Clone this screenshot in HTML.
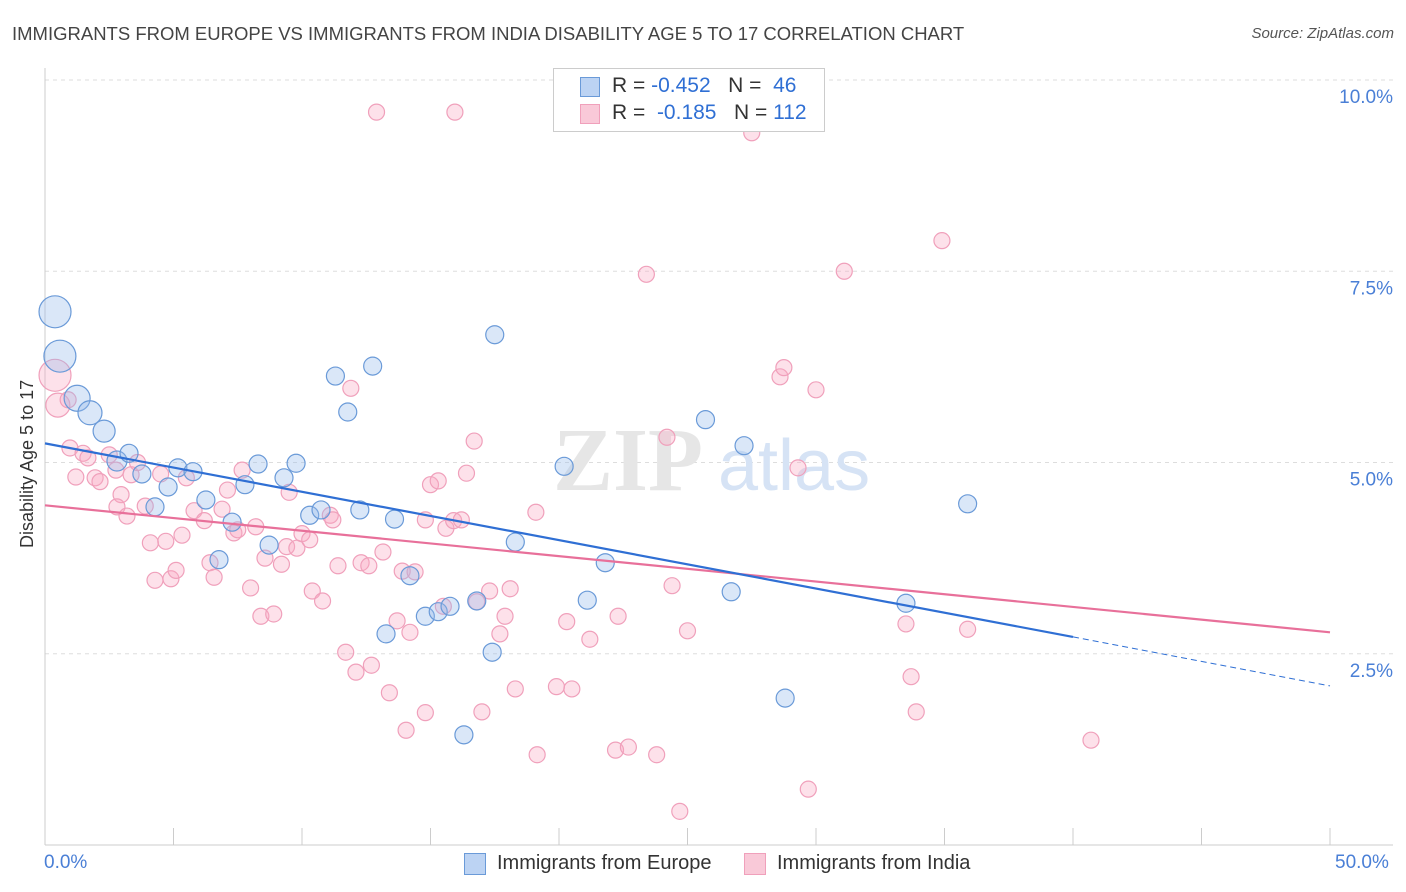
<!DOCTYPE html>
<html><head><meta charset="utf-8">
<style>
body{margin:0;background:#fff;font-family:"Liberation Sans",sans-serif;}
#wrap{position:relative;width:1406px;height:892px;overflow:hidden;}
.t{position:absolute;white-space:nowrap;}
</style></head><body>
<div id="wrap">
<div class="t" style="left:12px;top:23px;font-size:18.5px;color:#444;">IMMIGRANTS FROM EUROPE VS IMMIGRANTS FROM INDIA DISABILITY AGE 5 TO 17 CORRELATION CHART</div>
<div class="t" style="right:12px;top:25px;font-size:15px;color:#555;font-style:italic;">Source: ZipAtlas.com</div>
<svg id="svg" width="1406" height="892" style="position:absolute;left:0;top:0"></svg>
</div>
<script>
const europeX=[0.39,0.58,1.25,1.75,2.3,2.8,3.27,3.77,4.28,4.79,5.17,5.76,6.26,6.77,7.28,7.78,8.29,8.72,9.3,9.77,10.3,10.74,11.3,11.78,12.25,12.75,13.27,13.6,14.2,14.8,15.3,15.76,16.3,16.8,17.4,17.5,18.3,20.2,21.1,21.8,25.7,26.7,27.2,28.8,33.5,35.9];
const europeY=[6.97,6.39,5.84,5.65,5.41,5.02,5.12,4.85,4.42,4.68,4.93,4.88,4.51,3.73,4.22,4.71,4.98,3.92,4.8,4.99,4.31,4.38,6.13,5.66,4.38,6.26,2.76,4.26,3.52,2.99,3.05,3.12,1.44,3.19,2.52,6.67,3.96,4.95,3.2,3.69,5.56,3.31,5.22,1.92,3.16,4.46];
const europeR=[16,16,13,12,11,10,9,9,9,9,9,9,9,9,9,9,9,9,9,9,9,9,9,9,9,9,9,9,9,9,9,9,9,9,9,9,9,9,9,9,9,9,9,9,9,9];
const indiaX=[0.39,0.5,0.9,0.97,1.2,1.48,1.67,1.95,2.14,2.5,2.76,2.96,2.8,3.19,3.35,3.6,3.9,4.1,4.28,4.5,4.7,4.9,5.1,5.33,5.5,5.8,6.2,6.42,6.58,6.89,7.1,7.35,7.5,7.67,8.0,8.2,8.4,8.56,8.9,9.2,9.4,9.5,9.8,10.0,10.3,10.4,10.8,11.1,11.2,11.4,11.7,11.9,12.1,12.3,12.6,12.7,12.9,13.15,13.4,13.7,13.9,14.05,14.2,14.4,14.8,14.8,15.0,15.3,15.5,15.6,15.95,15.9,16.2,16.4,16.7,16.8,17.0,17.3,17.7,17.9,18.1,18.3,19.1,19.15,19.9,20.3,20.5,21.2,22.2,22.3,22.7,23.4,23.8,24.2,24.4,24.7,25.0,27.5,28.6,28.75,29.3,29.7,30.0,31.1,33.5,33.7,33.9,34.9,35.9,40.7];
const indiaY=[6.14,5.75,5.82,5.19,4.81,5.12,5.06,4.8,4.75,5.1,4.9,4.58,4.42,4.3,4.84,5.0,4.43,3.95,3.46,4.85,3.97,3.48,3.59,4.05,4.8,4.37,4.24,3.69,3.5,4.39,4.64,4.08,4.12,4.9,3.36,4.16,2.99,3.75,3.02,3.67,3.9,4.61,3.88,4.07,3.99,3.32,3.19,4.31,4.25,3.65,2.52,5.97,2.26,3.69,3.65,2.35,9.58,3.83,1.99,2.93,3.58,1.5,2.78,3.57,1.73,4.25,4.71,4.76,3.12,4.14,9.58,4.24,4.25,4.86,5.28,3.18,1.74,3.32,2.76,2.99,3.35,2.04,4.35,1.18,2.07,2.92,2.04,2.69,1.24,2.99,1.28,7.46,1.18,5.33,3.39,0.44,2.8,9.31,6.12,6.24,4.93,0.73,5.95,7.5,2.89,2.2,1.74,7.9,2.82,1.37];
const europeLineX=[0,40,50];
const europeLineY=[5.25,2.72,2.08];
const indiaLineX=[0,50];
const indiaLineY=[4.44,2.78];
const yTicks=[2.5,5.0,7.5,10.0];
const yTickLabels=["2.5%","5.0%","7.5%","10.0%"];

const X0=45,X1=1330,Y0=845,PY=76.5;
const sx=v=>X0+(v/50)*(X1-X0);
const sy=v=>Y0-v*PY;
const svg=document.getElementById('svg');
const NS='http://www.w3.org/2000/svg';
function mk(tag,attrs,name){const e=document.createElementNS(NS,tag);for(const k in attrs)e.setAttribute(k,attrs[k]);


svg.appendChild(e);return e;}
yTicks.forEach((t,i)=>{
 mk('line',{x1:X0,x2:1393,y1:sy(t),y2:sy(t),stroke:'#ddd','stroke-dasharray':'4,4'},'grid-line');
 const tx=mk('text',{x:1393,y:sy(t)+23,'text-anchor':'end','font-size':19,fill:'#4a7fd6','font-family':'Liberation Sans'},'y-tick-label');tx.textContent=yTickLabels[i];
});
mk('line',{x1:X0,x2:X0,y1:68,y2:Y0,stroke:'#ccc'},'y-axis');
mk('line',{x1:X0,x2:1393,y1:Y0,y2:Y0,stroke:'#ccc'},'x-axis');
for(let i=0;i<=10;i++){mk('line',{x1:sx(i*5),x2:sx(i*5),y1:828,y2:Y0,stroke:'#ccc'},'x-tick');}
const w1=mk('text',{x:553,y:490,'font-size':90,fill:'#e6e6e6','font-family':'Liberation Serif','font-weight':'bold'},'watermark-zip');w1.textContent='ZIP';
const w2=mk('text',{x:718,y:490,'font-size':72,fill:'#d6e3f5','font-family':'Liberation Sans'},'watermark-atlas');w2.textContent='atlas';
indiaX.forEach((x,i)=>{mk('circle',{cx:sx(x),cy:sy(indiaY[i]),r:i==0?16:(i==1?12:8),fill:'rgba(248,170,195,0.35)',stroke:'#f0a0bb','stroke-width':1.2},'india-point');});
europeX.forEach((x,i)=>{mk('circle',{cx:sx(x),cy:sy(europeY[i]),r:europeR[i],fill:'rgba(150,185,235,0.35)',stroke:'#6a9ad8','stroke-width':1.2},'europe-point');});
mk('line',{x1:sx(indiaLineX[0]),y1:sy(indiaLineY[0]),x2:sx(indiaLineX[1]),y2:sy(indiaLineY[1]),stroke:'#e8709a','stroke-width':2.2},'india-trend-line');
mk('line',{x1:sx(europeLineX[0]),y1:sy(europeLineY[0]),x2:sx(europeLineX[1]),y2:sy(europeLineY[1]),stroke:'#2f6fd4','stroke-width':2.2},'europe-trend-line');
mk('line',{x1:sx(europeLineX[1]),y1:sy(europeLineY[1]),x2:sx(europeLineX[2]),y2:sy(europeLineY[2]),stroke:'#2f6fd4','stroke-width':1,'stroke-dasharray':'6,4'},'europe-trend-extension');
</script>
<div class="t" style="left:17px;top:548px;transform:rotate(-90deg);transform-origin:0 0;font-size:18px;color:#333;">Disability Age 5 to 17</div>
<div class="t" style="left:44px;top:852px;font-size:19px;color:#4a7fd6;">0.0%</div>
<div class="t" style="left:1335px;top:852px;font-size:19px;color:#4a7fd6;">50.0%</div>
<div style="position:absolute;left:553px;top:68px;width:270px;height:62px;border:1px solid #ccc;background:#fff;font-size:21px;">
 <div style="position:absolute;left:26px;top:8px;width:18px;height:18px;background:#bcd3f3;border:1px solid #6a9ad8;"></div>
 <div class="t" style="left:58px;top:5px;color:#333;">R = <span style="color:#2f6fd4">-0.452</span> &nbsp;&nbsp;N = &nbsp;<span style="color:#2f6fd4">46</span></div>
 <div style="position:absolute;left:26px;top:35px;width:18px;height:18px;background:#f9c9d8;border:1px solid #f0a0bb;"></div>
 <div class="t" style="left:58px;top:32px;color:#333;">R = &nbsp;<span style="color:#2f6fd4">-0.185</span> &nbsp;&nbsp;N = <span style="color:#2f6fd4">112</span></div>
</div>
<div style="position:absolute;left:464px;top:853px;width:20px;height:20px;background:#bcd3f3;border:1px solid #6a9ad8;"></div>
<div class="t" style="left:497px;top:852px;font-size:20px;color:#333;">Immigrants from Europe</div>
<div style="position:absolute;left:744px;top:853px;width:20px;height:20px;background:#f9c9d8;border:1px solid #f0a0bb;"></div>
<div class="t" style="left:777px;top:852px;font-size:20px;color:#333;">Immigrants from India</div>
</body></html>
